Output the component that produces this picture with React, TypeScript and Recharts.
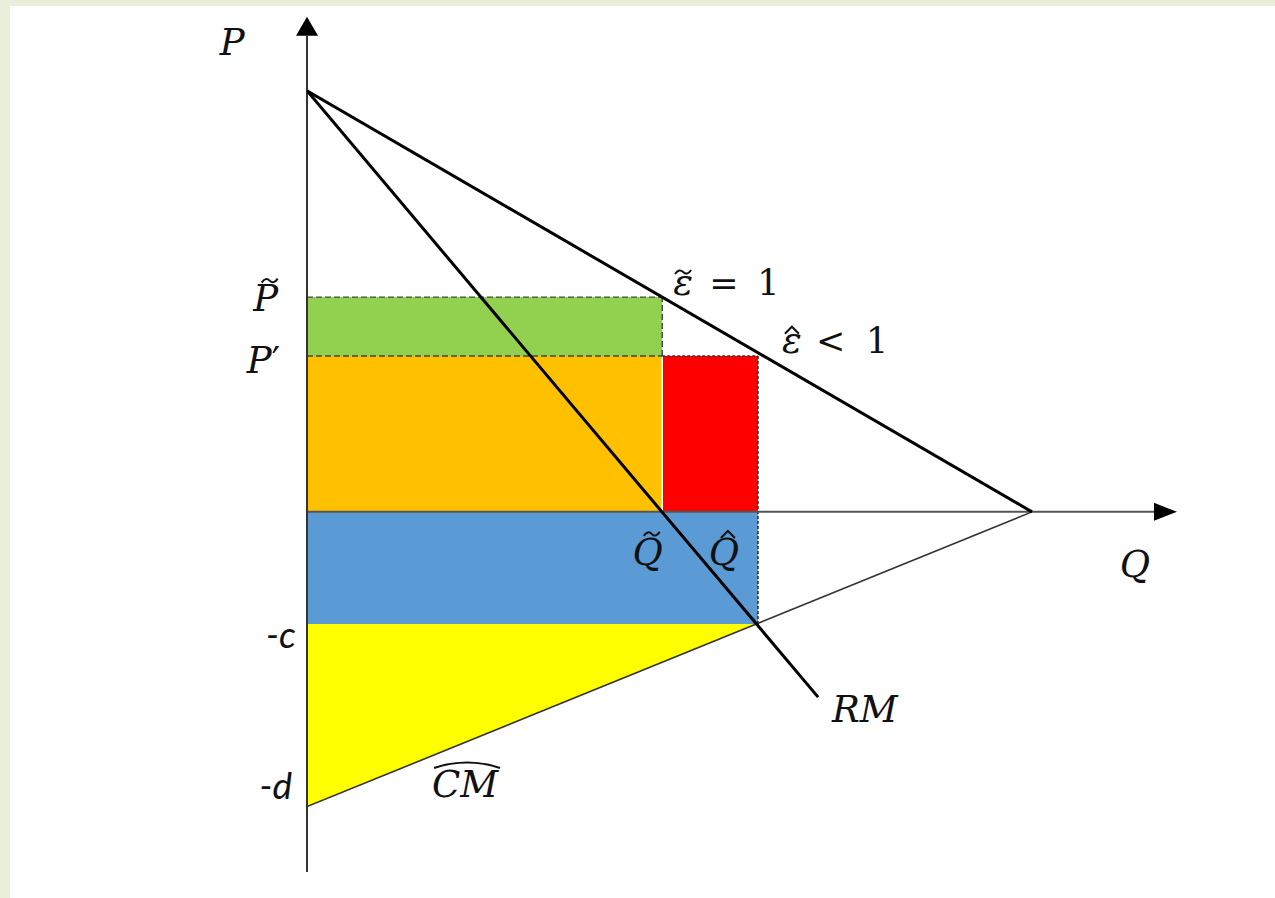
import React from 'react';
import {
  Area,
  ComposedChart,
  Line,
  ReferenceArea,
  ReferenceDot,
  ReferenceLine,
  XAxis,
  YAxis
} from 'recharts';

// key levels (Q in units, P in units)
const Q_TILDE = 4.9;
const Q_HAT = 6.22;
const P_TILDE = 5.1;
const P_PRIME = 3.7;
const MINUS_C = -2.66;
const MINUS_D = -7;

const demandLine = [
  { q: 0, p: 10 },
  { q: 10, p: 0 }
];
const revenueMarginLine = [
  { q: 0, p: 10 },
  { q: 7.05, p: -4.4 }
];
const costMarginLine = [
  { q: 0, p: MINUS_D },
  { q: 10, p: 0 }
];
const yellowTriangle = [
  { q: 0, band: [MINUS_D, MINUS_C] },
  { q: 6.2, band: [MINUS_C, MINUS_C] }
];

const regions = [
  { id: 'green', q1: 0, q2: Q_TILDE, p1: P_PRIME, p2: P_TILDE },
  { id: 'orange', q1: 0, q2: Q_TILDE, p1: 0, p2: P_PRIME },
  { id: 'red', q1: Q_TILDE, q2: Q_HAT, p1: 0, p2: P_PRIME },
  { id: 'blue', q1: 0, q2: Q_HAT, p1: MINUS_C, p2: 0 }
];

const dashedGuides = [
  [{ x: 0, y: P_TILDE }, { x: Q_TILDE, y: P_TILDE }],
  [{ x: 0, y: P_PRIME }, { x: Q_TILDE, y: P_PRIME }],
  [{ x: Q_TILDE, y: P_PRIME }, { x: Q_TILDE, y: P_TILDE }]
];
const dottedGuides = [
  [{ x: Q_TILDE, y: P_PRIME }, { x: Q_HAT, y: P_PRIME }],
  [{ x: Q_HAT, y: P_PRIME }, { x: Q_HAT, y: MINUS_C }]
];

const annotations = [
  { id: 'P', q: -1.03, p: 10.85 },
  { id: 'Ptilde', q: -0.57, p: 4.78 },
  { id: 'Pprime', q: -0.6, p: 3.3 },
  { id: 'c', q: -0.36, p: -3.23 },
  { id: 'd', q: -0.43, p: -6.82 },
  { id: 'epsTilde', q: 5.05, p: 5.15 },
  { id: 'epsHat', q: 6.55, p: 3.78 },
  { id: 'Qtilde', q: 4.7, p: -1.26 },
  { id: 'Qhat', q: 5.75, p: -1.26 },
  { id: 'Q', q: 11.42, p: -1.54 },
  { id: 'RM', q: 7.24, p: -4.99 },
  { id: 'CM', q: 2.18, p: -6.77 }
];

const fills: Record<string, string> = {
  green: '#92d050',
  orange: '#ffc000',
  red: '#ff0000',
  blue: '#5b9bd5'
};

const MATH = { fontFamily: 'DejaVu Serif', fontStyle: 'italic', fontSize: 37, fill: '#111' } as const;
const UPRIGHT = { fontFamily: 'DejaVu Serif', fontStyle: 'normal', fontSize: 35, fill: '#111' } as const;
const SANS = { fontFamily: 'Lato', fontStyle: 'italic', fontSize: 37, fill: '#111' } as const;

const tilde = (x: number, y: number) => (
  <path d={`M ${x - 8} ${y + 2} Q ${x - 4} ${y - 4} ${x} ${y} T ${x + 8} ${y - 2}`} stroke="#111" strokeWidth={2} fill="none" />
);
const hat = (x: number, y: number) => (
  <path d={`M ${x - 7} ${y + 4} L ${x} ${y - 3} L ${x + 7} ${y + 4}`} stroke="#111" strokeWidth={2} fill="none" />
);

function renderAnnotation(id: string, cx: number, cy: number) {
  switch (id) {
    case 'P':
      return <text x={cx} y={cy} textAnchor="middle" {...MATH}>P</text>;
    case 'Ptilde':
      return (
        <g>
          <text x={cx} y={cy} textAnchor="middle" {...MATH}>P</text>
          {tilde(cx + 4, cy - 30)}
        </g>
      );
    case 'Pprime':
      return (
        <text x={cx} y={cy} textAnchor="middle" {...MATH}>
          P<tspan fontStyle="normal">′</tspan>
        </text>
      );
    case 'c':
      return <text x={cx} y={cy} textAnchor="middle" {...SANS}>-c</text>;
    case 'd':
      return <text x={cx} y={cy} textAnchor="middle" {...SANS}>-d</text>;
    case 'epsTilde':
      return (
        <g>
          <text x={cx} y={cy} {...MATH}>ε</text>
          {tilde(cx + 10, cy - 23)}
          <text x={cx + 36} y={cy} {...UPRIGHT}>=</text>
          <text x={cx + 84} y={cy} {...UPRIGHT}>1</text>
        </g>
      );
    case 'epsHat':
      return (
        <g>
          <text x={cx} y={cy} {...MATH}>ε</text>
          {hat(cx + 10, cy - 23)}
          <text x={cx + 34} y={cy} {...UPRIGHT}>&lt;</text>
          <text x={cx + 84} y={cy} {...UPRIGHT}>1</text>
        </g>
      );
    case 'Qtilde':
      return (
        <g>
          <text x={cx} y={cy} textAnchor="middle" {...MATH}>Q</text>
          {tilde(cx + 4, cy - 31)}
        </g>
      );
    case 'Qhat':
      return (
        <g>
          <text x={cx} y={cy} textAnchor="middle" {...MATH}>Q</text>
          {hat(cx + 4, cy - 31)}
        </g>
      );
    case 'Q':
      return <text x={cx} y={cy} textAnchor="middle" {...MATH}>Q</text>;
    case 'RM':
      return <text x={cx} y={cy} {...MATH}>RM</text>;
    case 'CM':
      return (
        <g>
          <text x={cx} y={cy} textAnchor="middle" {...MATH}>CM</text>
          <path
            d={`M ${cx - 31} ${cy - 29} Q ${cx + 2} ${cy - 40} ${cx + 35} ${cy - 29}`}
            stroke="#111"
            strokeWidth={2}
            fill="none"
          />
        </g>
      );
    default:
      return <g />;
  }
}

// axis line with a filled arrow head at the far end
const arrowAxis = (len: number, half: number, color: string) => (props: any) => {
  const { x1, y1, x2, y2 } = props;
  const dx = x2 - x1;
  const dy = y2 - y1;
  const d = Math.hypot(dx, dy) || 1;
  const ux = dx / d;
  const uy = dy / d;
  const bx = x2 - ux * len;
  const by = y2 - uy * len;
  const pts = `${x2},${y2} ${bx - uy * half},${by + ux * half} ${bx + uy * half},${by - ux * half}`;
  return (
    <g>
      <line x1={x1} y1={y1} x2={bx} y2={by} stroke={color} strokeWidth={2} />
      <polygon points={pts} fill="#000" />
    </g>
  );
};

export default function App() {
  return (
    <div style={{ position: 'absolute', left: 0, top: 0, width: 1275, height: 898, background: '#eaefdc' }}>
      <div style={{ position: 'absolute', left: 10, top: 6, right: 0, bottom: 0, background: '#fff' }} />
      <div style={{ position: 'absolute', left: 0, top: 0 }}>
        <ComposedChart width={1275} height={898} margin={{ top: 15, right: 98, bottom: 24, left: 307 }}>
          <XAxis type="number" dataKey="q" domain={[0, 12]} allowDataOverflow hide />
          <YAxis type="number" dataKey="p" domain={[-8.6, 11.8]} allowDataOverflow hide />

          {regions.map((r) => (
            <ReferenceArea
              key={r.id}
              x1={r.q1}
              x2={r.q2}
              y1={r.p1}
              y2={r.p2}
              fill={fills[r.id]}
              fillOpacity={1}
              stroke="none"
              ifOverflow="visible"
            />
          ))}
          <Area
            data={yellowTriangle}
            dataKey="band"
            type="linear"
            fill="#ffff00"
            fillOpacity={1}
            stroke="none"
            isAnimationActive={false}
            activeDot={false}
          />

          <ReferenceLine
            segment={[{ x: Q_TILDE, y: 0 }, { x: Q_TILDE, y: P_PRIME }]}
            stroke="#fff"
            strokeWidth={1.5}
            ifOverflow="visible"
          />
          {dashedGuides.map((seg, i) => (
            <ReferenceLine key={`dash-${i}`} segment={seg} stroke="#444" strokeWidth={1.4} strokeDasharray="6 3" ifOverflow="visible" />
          ))}
          {dottedGuides.map((seg, i) => (
            <ReferenceLine key={`dot-${i}`} segment={seg} stroke="#333" strokeWidth={1.6} strokeDasharray="3 2" ifOverflow="visible" />
          ))}

          <ReferenceLine
            segment={[{ x: 0, y: 0 }, { x: 12, y: 0 }]}
            ifOverflow="visible"
            shape={arrowAxis(23, 9, '#555')}
          />
          <ReferenceLine
            segment={[{ x: 0, y: -8.55 }, { x: 0, y: 11.76 }]}
            ifOverflow="visible"
            shape={arrowAxis(19, 11, '#333')}
          />

          <Line data={costMarginLine} dataKey="p" stroke="#333" strokeWidth={1.6} dot={false} activeDot={false} isAnimationActive={false} />
          <Line data={demandLine} dataKey="p" stroke="#000" strokeWidth={3} dot={false} activeDot={false} isAnimationActive={false} />
          <Line data={revenueMarginLine} dataKey="p" stroke="#000" strokeWidth={3} dot={false} activeDot={false} isAnimationActive={false} />

          {annotations.map((a) => (
            <ReferenceDot
              key={a.id}
              x={a.q}
              y={a.p}
              r={0}
              ifOverflow="visible"
              shape={(props: any) => renderAnnotation(a.id, props.cx, props.cy)}
            />
          ))}
        </ComposedChart>
      </div>
    </div>
  );
}
